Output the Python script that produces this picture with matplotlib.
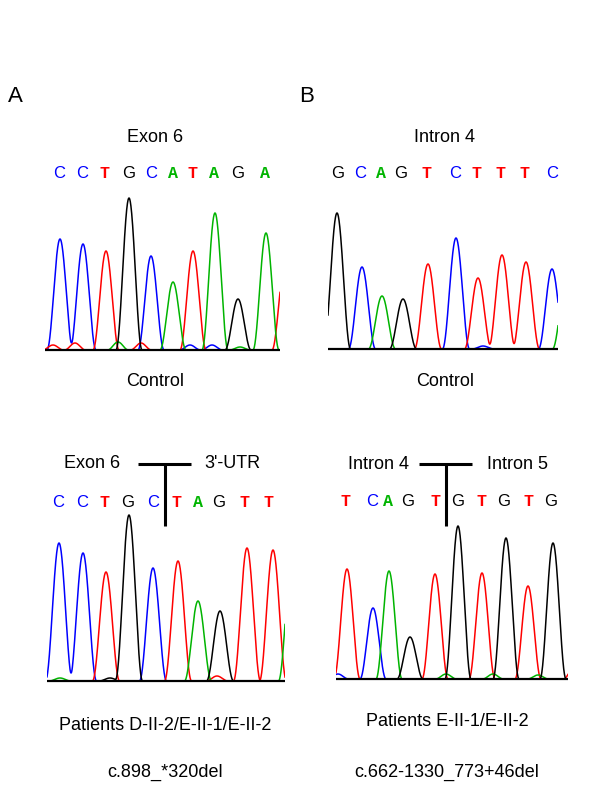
import numpy as np
import matplotlib
matplotlib.use('Agg')
import matplotlib.pyplot as plt

plt.rcParams['font.family'] = ['Liberation Sans', 'DejaVu Sans']

BASE_COLORS = {'A': '#00b400', 'C': '#0000ff', 'G': '#000000', 'T': '#ff0000'}

# ---------------- Panel A, control (Exon 6) ----------------
a1_calls = list("CCTGCATAGA")
a1_call_pos = [59, 82, 105, 129, 151, 173, 193, 214, 238, 265]
a1_peak_base = ['C', 'C', 'T', 'G', 'C', 'A', 'T', 'A', 'G', 'A', 'T',
                'T', 'T', 'A', 'T', 'C', 'C', 'A']
a1_peak_pos = [60, 83, 106, 129, 151, 173, 193, 215, 238, 266, 285,
               53, 75, 118, 141, 190, 212, 240]
a1_peak_h = [111, 106, 99, 152, 94, 68, 99, 137, 51, 117, 85,
             5, 7, 8, 7, 5, 5, 3]

# ---------------- Panel B, control (Intron 4) ----------------
b1_calls = list("GCAGTCTTTC")
b1_call_pos = [338, 360, 381, 401, 427, 455, 477, 501, 525, 552]
b1_peak_base = ['G', 'C', 'A', 'G', 'T', 'C', 'T', 'T', 'T', 'C', 'A', 'C']
b1_peak_pos = [337, 362, 382, 403, 428, 456, 478, 502, 526, 552, 566, 483]
b1_peak_h = [136, 82, 53, 50, 85, 111, 71, 94, 87, 80, 65, 3]

# ---------------- Panel A, patients ----------------
a2_calls = list("CCTGCTAGTT")
a2_call_pos = [58, 82, 105, 128, 153, 177, 198, 219, 244, 269]
a2_peak_base = ['C', 'C', 'T', 'G', 'C', 'T', 'A', 'G', 'T', 'T', 'A',
                'T', 'A', 'G']
a2_peak_pos = [59, 83, 106, 129, 153, 178, 198, 220, 247, 273, 292,
               217, 60, 110]
a2_peak_h = [138, 128, 109, 166, 113, 120, 80, 70, 133, 131, 120,
             5, 3, 3]
a2_left_label, a2_right_label = "Exon 6", "3'-UTR"
a2_junction = 165

# ---------------- Panel B, patients ----------------
b2_calls = list("TCAGTGTGTG")
b2_call_pos = [345, 372, 388, 408, 435, 458, 481, 504, 528, 551]
b2_peak_base = ['T', 'C', 'A', 'G', 'T', 'G', 'T', 'G', 'T', 'G', 'T',
                'C', 'A', 'A', 'A']
b2_peak_pos = [347, 373, 389, 410, 435, 458, 482, 506, 528, 553, 574,
               338, 446, 493, 538]
b2_peak_h = [110, 71, 108, 42, 105, 153, 106, 141, 93, 136, 12,
             5, 5, 5, 4]
b2_left_label, b2_right_label = "Intron 4", "Intron 5"
b2_junction = 446

W, H = 600, 800
fig = plt.figure(figsize=(6, 8), dpi=100)


def fx(x):
    return x / W


def fy(y):
    return 1 - y / H


def peak_shape(x, p, h, w):
    d = np.clip(np.abs(x - p) / w, 0, 1)
    return h * np.cos(0.5 * np.pi * d) ** 2


def panel(x0, x1, top, baseline, pbase, ppos, ph, w):
    ax = fig.add_axes([fx(x0), fy(baseline + 3), (x1 - x0) / W,
                       (baseline + 3 - top) / H])
    ax.set_xlim(x0, x1)
    ax.set_ylim(-3, baseline - top)
    ax.axis('off')
    x = np.linspace(x0, x1, 1500)
    for b in ['C', 'T', 'A', 'G']:
        y = np.zeros_like(x)
        for bb, p, h in zip(pbase, ppos, ph):
            if bb == b:
                ww = w if h > 20 else w * 0.8
                y += peak_shape(x, p, h, ww)
        ax.plot(x, y, color=BASE_COLORS[b], lw=1.1, clip_on=True)
    ax.plot([x0, x1], [0, 0], color='black', lw=1.6)
    return ax


def add_calls(ax, baseline, ypix, calls, call_pos):
    for c, p in zip(calls, call_pos):
        if c in 'AT':
            fam, wt = 'Liberation Mono', 'bold'
        else:
            fam, wt = 'Liberation Sans', 'normal'
        ax.text(p, baseline - ypix, c, color=BASE_COLORS[c], ha='center',
                va='center', fontsize=12, family=fam, weight=wt,
                clip_on=False)


axA1 = panel(45, 280, 190, 350, a1_peak_base, a1_peak_pos, a1_peak_h, 13)
add_calls(axA1, 350, 174, a1_calls, a1_call_pos)

axB1 = panel(328, 558, 190, 349, b1_peak_base, b1_peak_pos, b1_peak_h, 13.5)
add_calls(axB1, 349, 173, b1_calls, b1_call_pos)

axA2 = panel(47, 285, 510, 681, a2_peak_base, a2_peak_pos, a2_peak_h, 13.5)
add_calls(axA2, 681, 503, a2_calls, a2_call_pos)

axB2 = panel(336, 568, 510, 679, b2_peak_base, b2_peak_pos, b2_peak_h, 13)
add_calls(axB2, 679, 501, b2_calls, b2_call_pos)


def junction(ax, baseline, jx, left, right, lx, rx):
    yb = baseline - 464
    ax.plot([jx - 27, jx + 26], [yb, yb], color='black', lw=2.2,
            clip_on=False, solid_capstyle='butt')
    ax.plot([jx, jx], [yb, baseline - 526], color='black', lw=2.2,
            clip_on=False, solid_capstyle='butt')
    ax.text(lx, yb, left, ha='center', va='center', fontsize=13,
            clip_on=False)
    ax.text(rx, yb, right, ha='center', va='center', fontsize=13,
            clip_on=False)


junction(axA2, 681, a2_junction, a2_left_label, a2_right_label, 92, 232)
junction(axB2, 679, b2_junction, b2_left_label, b2_right_label, 378, 517)


def ftext(x, y, s, size=13):
    fig.text(fx(x), fy(y), s, ha='center', va='center', fontsize=size)


ftext(15, 96, "A", 16)
ftext(307, 96, "B", 16)
ftext(155, 137, "Exon 6")
ftext(445, 137, "Intron 4")
ftext(155, 382, "Control")
ftext(445, 382, "Control")
ftext(165, 725, "Patients D-II-2/E-II-1/E-II-2")
ftext(165, 772, "c.898_*320del")
ftext(447, 721, "Patients E-II-1/E-II-2")
ftext(447, 772, "c.662-1330_773+46del")

fig.savefig("out.png", dpi=100, facecolor='white')
